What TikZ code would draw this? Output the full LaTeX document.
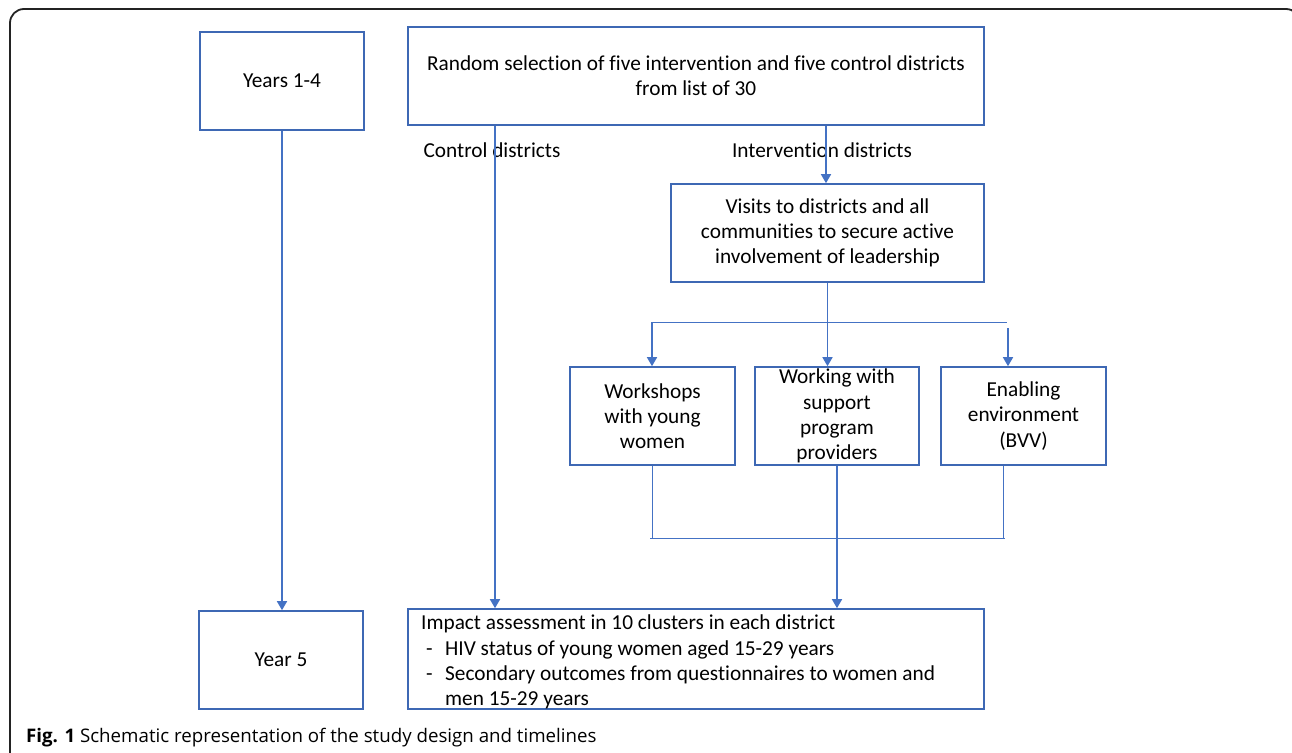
\documentclass[tikz,border=0pt]{standalone}
\usepackage{fontspec}
\setmainfont{Carlito}[Ligatures={NoCommon,NoContextual}]
\newfontfamily\capfont{Open Sans}
\usetikzlibrary{positioning}
\usetikzlibrary{arrows.meta}
\usetikzlibrary{backgrounds}
\definecolor{boxline}{RGB}{62,104,180}
\definecolor{conline}{RGB}{68,114,196}
\definecolor{frameline}{RGB}{35,35,35}

\begin{document}
\begin{tikzpicture}[x=1pt,y=-1pt,
		font=\fontsize{21.3}{25.3}\selectfont,
		box/.style={draw=boxline,line width=1.6pt,rectangle,align=center,inner sep=0pt},
		conn/.style={draw=conline,line width=1.6pt},
		arr/.style={conn,-{Triangle[width=10pt,length=9pt]}},
		thinline/.style={draw=conline,line width=0.9pt}]

		\useasboundingbox (0,0) rectangle (1292,752);
		\draw[frameline,line width=1.8pt,rounded corners=14pt] (10,9) rectangle (1300,775);

		% time line on the left
		\node[box,minimum width=164pt,minimum height=98pt] at (282,81) (yrs) {Years 1-4};
		\node[box,minimum width=164pt,minimum height=98pt] at (281,660) (yfive) {Year 5};

		% study arms
		\node[box,minimum width=576pt,minimum height=98pt] at (696,76) (sel)
		{Random selection of five intervention and five control districts\\from list of 30};

		\node[box,minimum width=313pt,minimum height=98pt] at (827.5,233) (vis)
		{Visits to districts and all\\communities to secure active\\involvement of leadership};

		\node[box,minimum width=165pt,minimum height=98pt] at (652.5,416) (ws)
		{Workshops\\with young\\women};
		\node[box,minimum width=164pt,minimum height=98pt] at (837,416) (prov) {};
		\node[align=center] at (prov.center) (provtxt) {Working with\\support\\program\\providers};
		\node[box,minimum width=165pt,minimum height=98pt] at (1023.5,416) (env)
		{Enabling\\environment\\(BVV)};

		\node[box,minimum width=576pt,minimum height=100pt] at (696,659) (imp) {};
		\node[anchor=north west,inner sep=0pt,align=left] at (421,615) (imptxt)
		{Impact assessment in 10 clusters in each district\\
			\makebox[24pt][l]{\ -}HIV status of young women aged 15-29 years\\
			\makebox[24pt][l]{\ -}Secondary outcomes from questionnaires to women and\\
			\hspace*{24pt}men 15-29 years};

		\node at (492,150) (ctltxt) {Control districts};
		\node at (822,150) (inttxt) {Intervention districts};

		\coordinate (ctl) at (495,0);
		\coordinate (int) at (826,0);
		\coordinate (brl) at (652,322);
		\coordinate (brr) at (1007,322);
		\coordinate (brrd) at (1008,328);
		\coordinate (jl) at (650,538);
		\coordinate (jr) at (1005,538);
		\coordinate (jre) at (1003,538);

		\draw[arr] (yrs.south) -- (yrs.south |- yfive.north);
		\draw[arr] (sel.south -| ctl) -- (imp.north -| ctl);
		\draw[arr] (sel.south -| int) -- (vis.north -| int);
		\draw[arr] (vis.south) -- (vis.south |- prov.north);

		\draw[thinline] (brl) -- (brr);
		\draw[arr] (brl) -- (ws.north -| brl);
		\draw[arr] (brrd) -- (env.north -| brrd);

		\draw[thinline] (ws.south -| brl) -- (brl |- jl);
		\draw[thinline] (env.south -| jre) -- (jre);
		\draw[thinline] (jl) -- (jr);
		\draw[arr] (prov.south) -- (prov.south |- imp.north);

		\node[anchor=base west,inner sep=0pt] at (26,742) (cap)
		{\capfont\fontsize{18.7}{22}\selectfont\textbf{Fig. 1} Schematic representation of the study design and timelines};
	\end{tikzpicture}
\end{document}
